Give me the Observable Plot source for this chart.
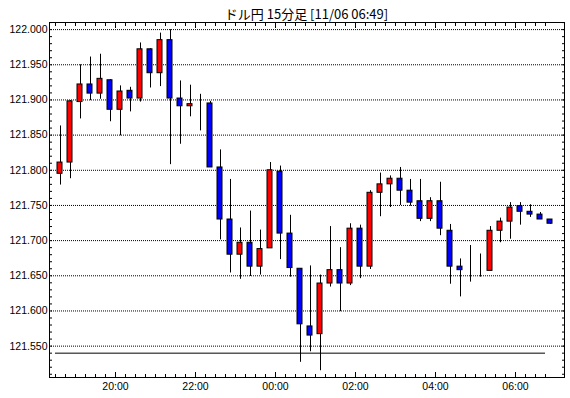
<!DOCTYPE html>
<html>
<head>
<meta charset="utf-8">
<script src="https://cdn.jsdelivr.net/npm/d3@7"></script>
<script src="https://cdn.jsdelivr.net/npm/@observablehq/plot@0.6"></script>
<style>
  html, body { margin: 0; padding: 0; background: #fff; }
  body { position: relative; width: 570px; height: 398px; overflow: hidden; }
  #title { position: absolute; top: 6px; left: 49px; width: 515px; text-align: center;
    font-family: "Noto Sans CJK JP", "Liberation Sans", sans-serif; font-size: 13px; line-height: 15px; color: #000; }
  svg { display: block; }
</style>
</head>
<body>
<div id="title">ドル円 15分足 [11/06 06:49]</div>
<div id="chart"></div>
<script>
// 15-minute slots (start times), 11/05 18:30 → 11/06 06:45
const slots = ["18:30","18:45","19:00","19:15","19:30","19:45","20:00","20:15","20:30","20:45",
  "21:00","21:15","21:30","21:45","22:00","22:15","22:30","22:45","23:00","23:15",
  "23:30","23:45","00:00","00:15","00:30","00:45","01:00","01:15","01:30","01:45",
  "02:00","02:15","02:30","02:45","03:00","03:15","03:30","03:45","04:00","04:15",
  "04:30","04:45","05:00","05:15","05:30","05:45","06:00","06:15","06:30","06:45"];

const open  = [121.795,121.811,121.897,121.922,121.909,121.928,121.886,121.913,121.902,121.972,
  121.938,121.985,121.902,121.891,121.894,121.895,121.804,121.730,121.680,121.697,
  121.663,121.689,121.798,121.710,121.660,121.578,121.567,121.639,121.658,121.639,
  121.717,121.663,121.768,121.780,121.788,121.771,121.756,121.731,121.756,121.714,
  121.663,121.657,121.657,121.657,121.714,121.727,121.749,121.741,121.737,121.730];
const high  = [121.863,121.899,121.950,121.961,121.965,121.929,121.920,121.918,121.981,121.973,
  121.995,122.000,121.927,121.921,121.908,121.898,121.829,121.787,121.718,121.742,
  121.715,121.811,121.806,121.736,121.660,121.664,121.651,121.720,121.690,121.724,
  121.722,121.771,121.796,121.792,121.804,121.787,121.787,121.761,121.783,121.723,
  121.674,121.693,121.681,121.720,121.732,121.754,121.754,121.751,121.740,121.730];
const low   = [121.779,121.788,121.873,121.899,121.901,121.869,121.849,121.883,121.897,121.917,
  121.919,121.808,121.837,121.876,121.856,121.804,121.701,121.654,121.645,121.649,
  121.651,121.689,121.673,121.648,121.527,121.542,121.515,121.634,121.599,121.636,
  121.646,121.659,121.734,121.747,121.750,121.749,121.727,121.727,121.707,121.638,
  121.620,121.641,121.648,121.657,121.697,121.702,121.722,121.733,121.730,121.723];
const close = [121.811,121.898,121.922,121.909,121.930,121.886,121.912,121.902,121.972,121.938,
  121.985,121.902,121.891,121.894,121.894,121.804,121.730,121.680,121.697,121.663,
  121.688,121.800,121.710,121.661,121.581,121.565,121.639,121.658,121.639,121.717,
  121.663,121.768,121.780,121.788,121.771,121.754,121.731,121.756,121.717,121.663,
  121.658,121.657,121.657,121.714,121.727,121.747,121.741,121.737,121.730,121.724];

const refLevel = 121.540;               // horizontal reference line
const yLabels = [122.000,121.950,121.900,121.850,121.800,121.750,121.700,121.650,121.600,121.550];
const xLabels = ["20:00","22:00","00:00","02:00","04:00","06:00"];

const toDate = (s) => {
  const [h, m] = s.split(":").map(Number);
  return new Date(Date.UTC(2015, 10, h >= 12 ? 5 : 6, h, m));
};
const MIN = 60 * 1000;
const data = slots.map((s, i) => {
  const t0 = toDate(s);
  return {
    t0, t1: new Date(+t0 + 15 * MIN), mid: new Date(+t0 + 7.5 * MIN),
    open: open[i], high: high[i], low: low[i], close: close[i],
    color: close[i] > open[i] ? "#ff0000" : close[i] < open[i] ? "#0000ff" : "#000000"
  };
});
const slotDates = slots.map(toDate);
const majorDates = xLabels.map(toDate);
const minorY = d3.range(121510, 122011, 10).map(v => v / 1000);

const chart = Plot.plot({
  width: 570,
  height: 398,
  marginTop: 22,
  marginBottom: 21,
  marginLeft: 49,
  marginRight: 6,
  style: { fontFamily: "'Liberation Sans', Arial, sans-serif", fontSize: "10.5px", color: "#000", background: "#fff" },
  x: { type: "utc", domain: [new Date(Date.UTC(2015, 10, 5, 18, 21)), new Date(Date.UTC(2015, 10, 6, 7, 13, 30))], axis: null },
  y: { domain: [121.5054, 122.0101], axis: null },
  marks: [
    Plot.ruleY(yLabels, { stroke: "#000", strokeWidth: 1, strokeDasharray: "1,1" }),
    Plot.ruleY([refLevel], { x1: slotDates[0], x2: slotDates[slotDates.length - 1], stroke: "#000", strokeWidth: 1 }),
    Plot.ruleX(data, { x: "mid", y1: "low", y2: "high", stroke: "#000", strokeWidth: 1 }),
    Plot.rect(data, { x1: "t0", x2: "t1", y1: "open", y2: "close", insetLeft: 2, insetRight: 3,
      fill: "color", stroke: "#000", strokeWidth: 1 }),
    Plot.frame({ stroke: "#000", strokeWidth: 1 }),
    // y ticks (inward) on both sides
    Plot.axisY(minorY, { anchor: "left", tickSize: -3, fill: "none", label: null }),
    Plot.axisY(minorY, { anchor: "right", tickSize: -3, fill: "none", label: null }),
    Plot.axisY(yLabels, { anchor: "left", tickSize: 0, tickPadding: 2, tickFormat: d3.format(".3f"), label: null }),
    // x ticks (inward) bottom and top
    Plot.axisX(slotDates, { anchor: "bottom", tickSize: -3, fill: "none", label: null }),
    Plot.axisX(slotDates, { anchor: "top", tickSize: -3, fill: "none", label: null }),
    Plot.axisX(majorDates, { anchor: "bottom", tickSize: -5, fill: "none", label: null }),
    Plot.axisX(majorDates, { anchor: "top", tickSize: -5, fill: "none", label: null }),
    Plot.axisX(majorDates, { anchor: "bottom", tickSize: 0, tickPadding: 5, tickFormat: d3.utcFormat("%H:%M"), label: null })
  ]
});
document.getElementById("chart").appendChild(chart);
</script>
</body>
</html>
